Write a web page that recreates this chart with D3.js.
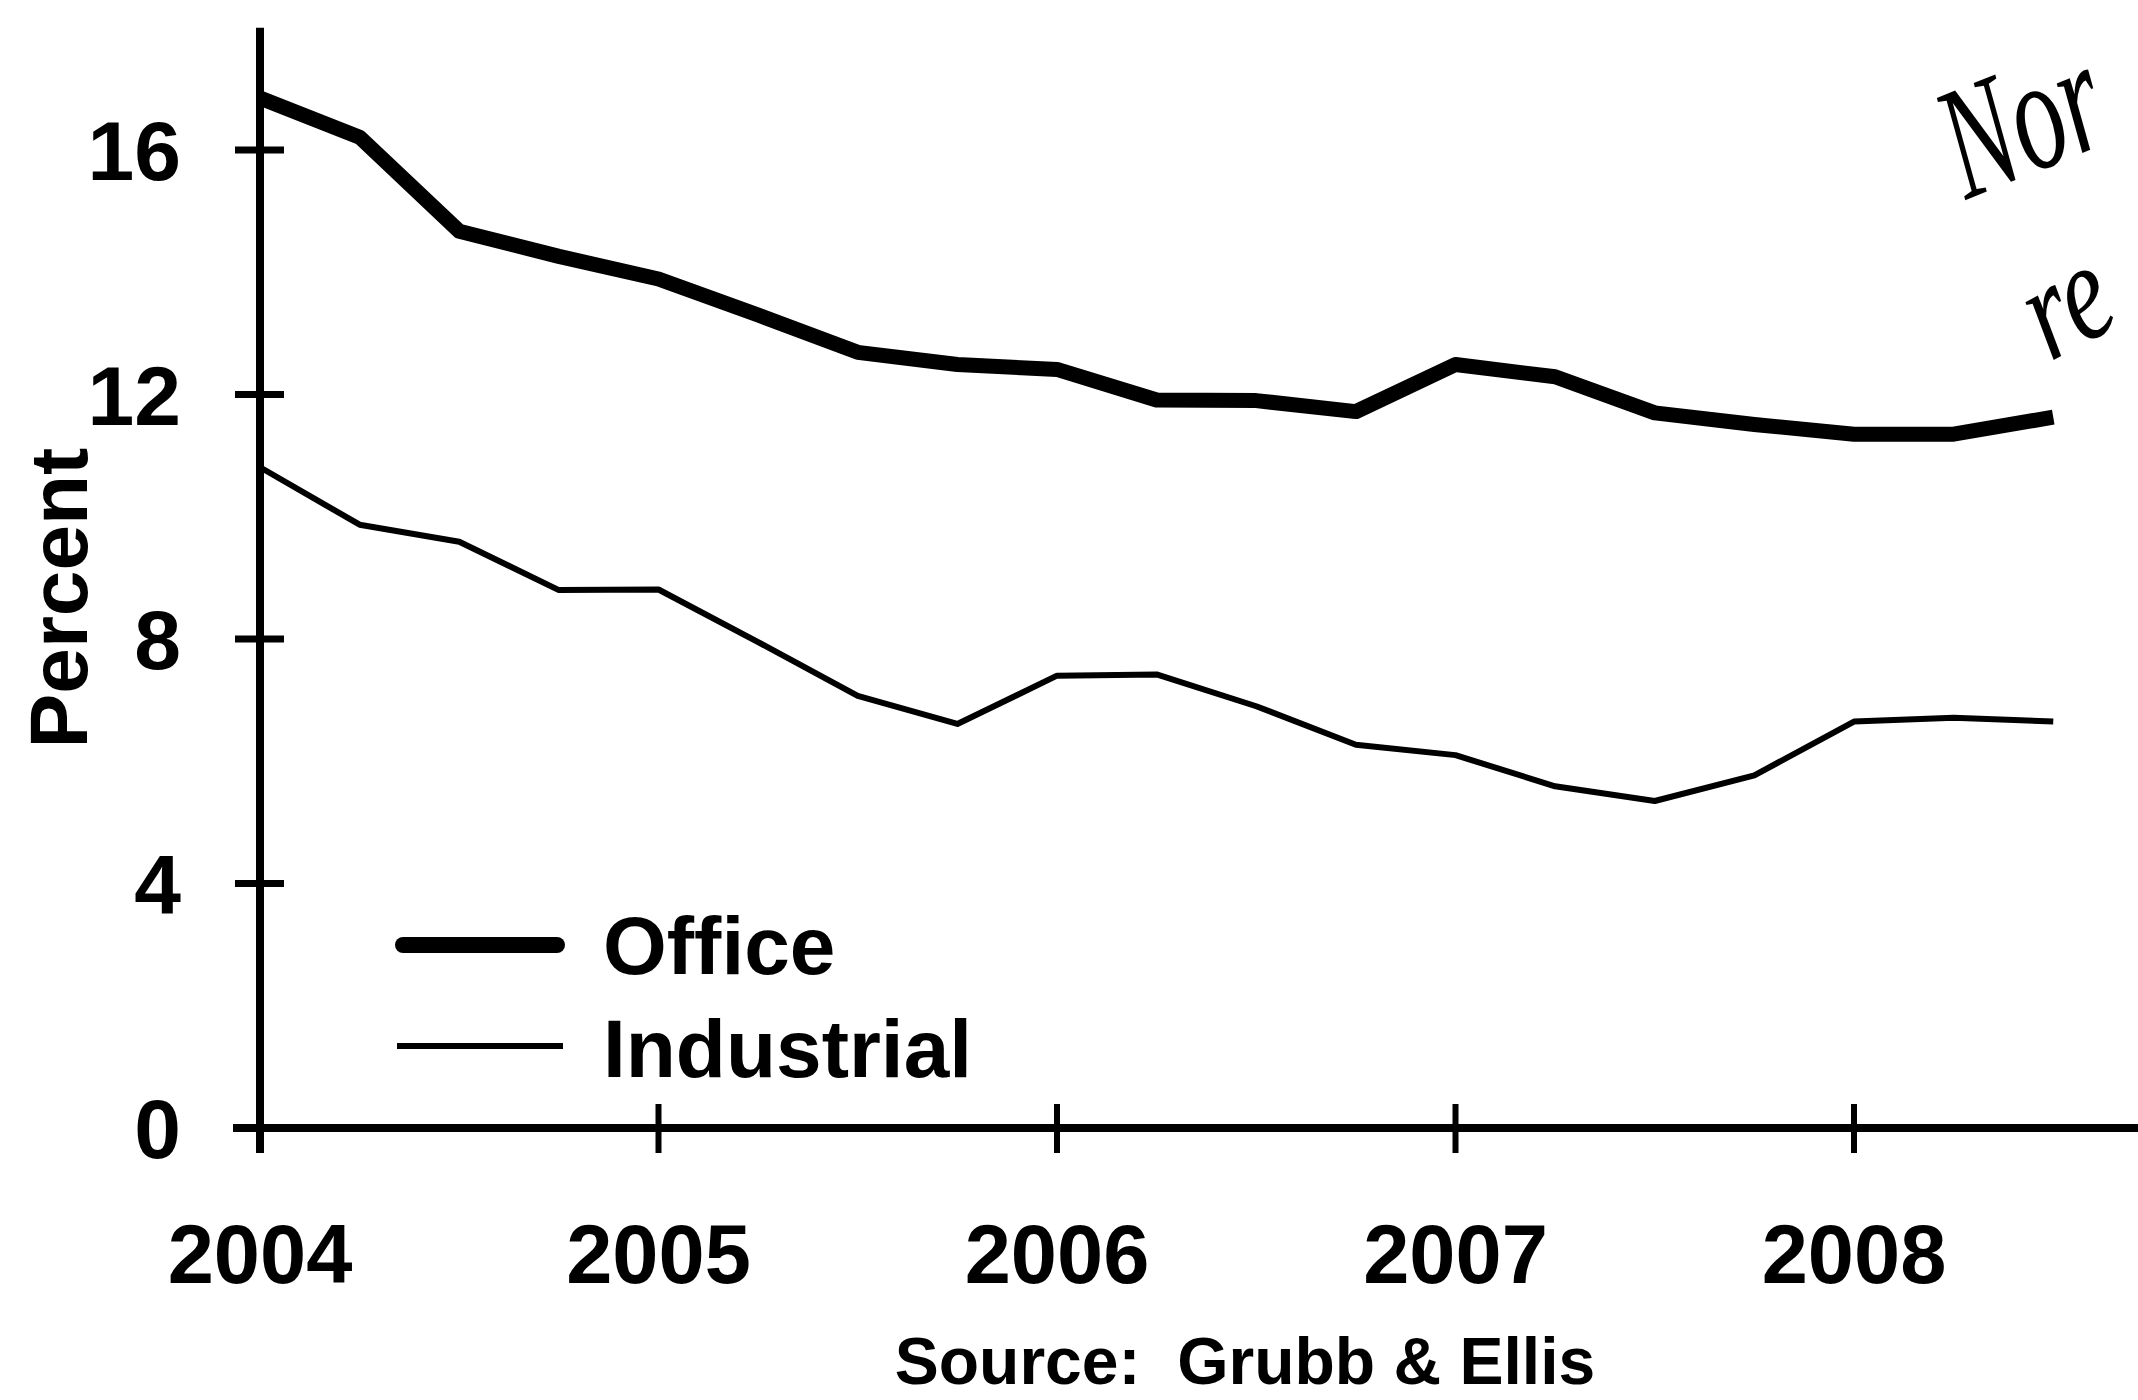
<!DOCTYPE html>
<html>
<head>
<meta charset="utf-8">
<script src="https://cdn.jsdelivr.net/npm/d3@7"></script>
<style>
  html, body { margin: 0; padding: 0; background: #fff; }
  svg { display: block; }
  text { font-family: "Liberation Sans", Arial, sans-serif; font-weight: bold; fill: #000; }
</style>
</head>
<body>
<script>
// ---- Data ----
const quarters = ["2004 Q1","2004 Q2","2004 Q3","2004 Q4",
                  "2005 Q1","2005 Q2","2005 Q3","2005 Q4",
                  "2006 Q1","2006 Q2","2006 Q3","2006 Q4",
                  "2007 Q1","2007 Q2","2007 Q3","2007 Q4",
                  "2008 Q1","2008 Q2","2008 Q3"];
const office     = [16.85, 16.21, 14.67, 14.26, 13.89, 13.30, 12.69, 12.49, 12.41, 11.91,
                    11.90, 11.72, 12.49, 12.29, 11.70, 11.51, 11.35, 11.35, 11.63];
const industrial = [10.81, 9.87, 9.59, 8.80, 8.81, 7.95, 7.07, 6.61, 7.40, 7.42,
                    6.90, 6.27, 6.10, 5.59, 5.35, 5.77, 6.65, 6.71, 6.65];
const yearTicks  = [2004, 2005, 2006, 2007, 2008];
const yTicks     = [0, 4, 8, 12, 16];
const seriesNames = ["Office", "Industrial"];
const yLabel = "Percent";
const sourceText = "Source:  Grubb & Ellis";
const noteLines = ["Nor", "re"];   // handwritten note, cut off at the right edge in the original

// ---- Layout ----
const W = 2138, H = 1400;
const svg = d3.select("body").append("svg").attr("width", W).attr("height", H);

const qToNum = q => { const [yr, qq] = q.split(" Q"); return +yr + (+qq - 1) / 4; };

const x = d3.scaleLinear().domain([2004, 2009]).range([260, 260 + 5 * 398.5]);
const y = d3.scaleLinear().domain([0, 18]).range([1128, 1128 - 18 * 61.125]);

// Axes lines
svg.append("line").attr("x1", x(2004)).attr("x2", x(2004))
  .attr("y1", y(18)).attr("y2", y(0) + 25)
  .attr("stroke", "#000").attr("stroke-width", 8);
svg.append("line").attr("x1", x(2004) - 27).attr("x2", W + 10)
  .attr("y1", y(0)).attr("y2", y(0))
  .attr("stroke", "#000").attr("stroke-width", 8);

// Y ticks + labels
svg.selectAll(".ytick").data(yTicks).join("line")
  .attr("x1", x(2004) - 25).attr("x2", x(2004) + 24)
  .attr("y1", d => y(d)).attr("y2", d => y(d))
  .attr("stroke", "#000").attr("stroke-width", 7);
svg.selectAll(".ylab").data(yTicks).join("text")
  .attr("x", 181).attr("y", d => y(d) + 30)
  .attr("text-anchor", "end").attr("font-size", 84)
  .text(d => d);

// X ticks + labels
svg.selectAll(".xtick").data(yearTicks).join("line")
  .attr("x1", d => x(d)).attr("x2", d => x(d))
  .attr("y1", y(0) - 24).attr("y2", y(0) + 25)
  .attr("stroke", "#000").attr("stroke-width", 6);
svg.selectAll(".xlab").data(yearTicks).join("text")
  .attr("x", d => x(d)).attr("y", 1283)
  .attr("text-anchor", "middle").attr("font-size", 83)
  .text(d => d);

// Y axis title
svg.append("text")
  .attr("transform", "translate(87,598) rotate(-90)")
  .attr("text-anchor", "middle").attr("font-size", 82)
  .text(yLabel);

// Lines
const line = d3.line().x((d, i) => x(qToNum(quarters[i]))).y(d => y(d));
svg.append("path").datum(industrial).attr("d", line)
  .attr("fill", "none").attr("stroke", "#000").attr("stroke-width", 6)
  .attr("stroke-linejoin", "round");
svg.append("path").datum(office).attr("d", line)
  .attr("fill", "none").attr("stroke", "#000").attr("stroke-width", 15)
  .attr("stroke-linejoin", "round");

// Legend
const legend = [
  { name: seriesNames[0], w: 16, cap: "round", ly: 945, ty: 974 },
  { name: seriesNames[1], w: 6, cap: "butt", ly: 1046, ty: 1077 }
];
legend.forEach(l => {
  svg.append("line").attr("x1", l.cap === "round" ? 403 : 397).attr("x2", l.cap === "round" ? 557 : 563)
    .attr("y1", l.ly).attr("y2", l.ly)
    .attr("stroke", "#000").attr("stroke-width", l.w).attr("stroke-linecap", l.cap);
  svg.append("text").attr("x", 603).attr("y", l.ty)
    .attr("font-size", 82).text(l.name);
});

// Source
svg.append("text").attr("x", 1245).attr("y", 1384)
  .attr("text-anchor", "middle").attr("font-size", 66)
  .style("white-space", "pre")
  .text(sourceText);

// Handwritten note
svg.append("text")
  .attr("transform", "translate(1966,200) rotate(-22) scale(1,1.55)")
  .style("font-family", "'Liberation Serif', serif")
  .style("font-style", "italic").style("font-weight", "normal")
  .attr("font-size", 104).text(noteLines[0]);
svg.append("text")
  .attr("transform", "translate(2050,362) rotate(-28) scale(1,1.35)")
  .style("font-family", "'Liberation Serif', serif")
  .style("font-style", "italic").style("font-weight", "normal")
  .attr("font-size", 104).text(noteLines[1]);
</script>
</body>
</html>
